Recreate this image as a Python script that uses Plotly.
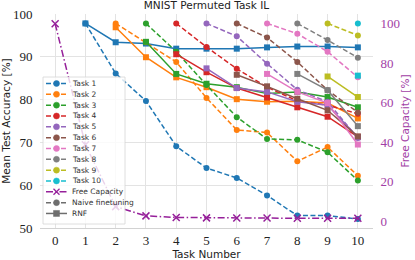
import plotly.graph_objects as go

# ---------------- data ----------------
task_numbers = list(range(0, 11))
task_names = ["Task 1", "Task 2", "Task 3", "Task 4", "Task 5",
              "Task 6", "Task 7", "Task 8", "Task 9", "Task 10"]
task_colors = ["#1f77b4", "#ff7f0e", "#2ca02c", "#d62728", "#9467bd",
               "#8c564b", "#e377c2", "#7f7f7f", "#bcbd22", "#17becf"]

# Naive finetuning accuracy of task k, evaluated after training tasks k..10
naive_t1 = [97.8, 86.1, 79.7, 69.1, 64.0, 61.7, 57.6, 52.9, 52.9, 52.1]
naive_t2 = [97.8, 93.4, 88.8, 80.4, 72.9, 72.3, 65.6, 68.9, 62.2]
naive_t3 = [97.8, 91.2, 83.4, 75.9, 70.8, 70.6, 67.7, 61.1]
naive_t4 = [97.8, 92.3, 87.2, 82.9, 79.7, 78.7, 76.7]
naive_t5 = [97.8, 94.8, 88.4, 82.3, 79.5, 71.0]
naive_t6 = [97.8, 94.5, 88.8, 82.2, 77.0]
naive_t7 = [97.8, 95.4, 91.2, 85.2]
naive_t8 = [97.8, 93.9, 89.8]
naive_t9 = [97.8, 95.0]
naive_t10 = [97.8]

# RNF accuracy of task k, evaluated after training tasks k..10
rnf_t1 = [97.8, 93.4, 93.1, 91.9, 91.9, 91.9, 92.2, 92.4, 92.4, 92.2]
rnf_t2 = [96.9, 89.9, 85.2, 82.9, 80.1, 79.5, 79.6, 79.2, 75.6]
rnf_t3 = [93.5, 86.0, 83.7, 82.9, 81.4, 81.8, 80.6, 78.2]
rnf_t4 = [90.6, 86.4, 82.7, 80.5, 78.2, 76.0, 71.3]
rnf_t5 = [87.3, 82.7, 81.8, 79.5, 78.7, 71.2]
rnf_t6 = [85.8, 83.1, 80.2, 77.5, 71.4]
rnf_t7 = [86.0, 81.8, 79.2, 69.5]
rnf_t8 = [86.0, 82.2, 73.8]
rnf_t9 = [85.4, 80.6]
rnf_t10 = [85.6]

free_capacity = [100.0, 38.7, 7.4, 2.7, 1.9, 1.7, 1.6, 1.6, 1.5, 1.5, 1.5]

naive_series = [naive_t1, naive_t2, naive_t3, naive_t4, naive_t5,
                naive_t6, naive_t7, naive_t8, naive_t9, naive_t10]
rnf_series = [rnf_t1, rnf_t2, rnf_t3, rnf_t4, rnf_t5,
              rnf_t6, rnf_t7, rnf_t8, rnf_t9, rnf_t10]

acc_ticks = [50, 60, 70, 80, 90, 100]
cap_ticks = [0, 20, 40, 60, 80, 100]

legend_labels = task_names + ["Free Capacity", "Naive finetuning", "RNF"]

# ---------------- style ----------------
PURPLE = "#96209a"
PURPLE_TXT = "#a23ea6"
GRID = "#e3e3e3"
TXT = "#222222"
SERIF = "Liberation Serif, DejaVu Serif, serif"
SANS = "DejaVu Sans, sans-serif"
DASH = "5px,2.5px"
DASHDOT = "7px,2.5px,1.5px,2.5px"
NAIVE_GRAY = "#6e6e6e"

fig = go.Figure()

for k in range(10):
    xs = task_numbers[k + 1:]
    fig.add_trace(go.Scatter(
        x=xs, y=naive_series[k], mode="lines+markers", name=task_names[k],
        line=dict(color=task_colors[k], width=1.5, dash=DASH),
        marker=dict(symbol="circle", size=6, color=task_colors[k]),
        showlegend=False))
    fig.add_trace(go.Scatter(
        x=xs, y=rnf_series[k], mode="lines+markers", name=task_names[k] + " RNF",
        line=dict(color=task_colors[k], width=1.5),
        marker=dict(symbol="square", size=6, color=task_colors[k]),
        showlegend=False))

fig.add_trace(go.Scatter(
    x=task_numbers, y=free_capacity, mode="lines+markers", name="Free Capacity",
    yaxis="y2",
    line=dict(color=PURPLE, width=1.5, dash=DASHDOT),
    marker=dict(symbol="x-thin", size=7, line=dict(color=PURPLE, width=1.5)),
    showlegend=False))

# ---------------- layout ----------------
PL, PR, PT, PB = 40, 373, 14, 228
W, H = PR - PL, PB - PT


def px_x(p):
    return (p - PL) / W


def px_y(p):
    return (PB - p) / H


fig.update_layout(
    template="none",
    width=415, height=260,
    margin=dict(l=PL, r=415 - PR, t=PT, b=260 - PB, pad=0, autoexpand=False),
    plot_bgcolor="white", paper_bgcolor="white",
    showlegend=False,
    hovermode=False,
    title=dict(text="MNIST Permuted Task IL", x=px_x(206.5), xref="paper",
               xanchor="center", y=1 - 5.5 / 260, yref="container", yanchor="middle",
               font=dict(family=SANS, size=10.5, color=TXT)),
    xaxis=dict(range=[-0.5, 10.5], tickvals=task_numbers, showgrid=True,
               gridcolor=GRID, gridwidth=1, zeroline=False, automargin=False,
               showline=True, linecolor="#d2d2d2", linewidth=1,
               ticks="",
               tickfont=dict(family=SERIF, size=13, color=TXT),
               title=dict(text="Task Number", standoff=2,
                          font=dict(family=SANS, size=10.5, color=TXT))),
    yaxis=dict(range=[50, 100], tickvals=acc_ticks, showgrid=True,
               gridcolor=GRID, gridwidth=1, zeroline=False, showline=False,
               automargin=False,
               ticks="outside", ticklen=4, tickcolor="rgba(0,0,0,0)",
               tickfont=dict(family=SERIF, size=13, color=TXT),
               title=dict(text="Mean Test Accuracy [%]", standoff=1,
                          font=dict(family=SANS, size=10.5, color=TXT))),
    yaxis2=dict(range=[-3.43, 104.93], tickvals=cap_ticks, overlaying="y",
                side="right", showgrid=False, zeroline=False, showline=False,
                automargin=False,
                ticks="outside", ticklen=4, tickcolor="rgba(0,0,0,0)",
                tickfont=dict(family=SERIF, size=13, color=PURPLE_TXT),
                title=dict(text="Free Capacity [%]", standoff=2,
                           font=dict(family=SANS, size=10.5, color=PURPLE_TXT))),
)

# ---------------- hand-built legend (matplotlib-style, compact rows) ----------------
LEG_X0, LEG_X1, LEG_Y0, LEG_Y1 = 43, 125, 77, 224
ROW0, ROW_H = 83.5, 10.83
LINE_X0, LINE_X1, MARK_X, TEXT_X = 46, 67, 56.5, 69.5

shapes = [dict(type="rect", xref="paper", yref="paper", layer="above",
               x0=px_x(LEG_X0), x1=px_x(LEG_X1), y0=px_y(LEG_Y1), y1=px_y(LEG_Y0),
               fillcolor="rgba(255,255,255,0.8)", line=dict(color="#d6d6d6", width=0.8))]
annotations = []

glyphs = [(c, DASH, "circle") for c in task_colors] + [
    (PURPLE, DASHDOT, "x"), (NAIVE_GRAY, DASH, "circle"), (NAIVE_GRAY, "solid", "square")]

for i, (label, (col, dash, sym)) in enumerate(zip(legend_labels, glyphs)):
    yc = px_y(ROW0 + i * ROW_H)
    shapes.append(dict(type="line", xref="paper", yref="paper", layer="above",
                       x0=px_x(LINE_X0), x1=px_x(LINE_X1), y0=yc, y1=yc,
                       line=dict(color=col, width=1.5, dash=dash)))
    common = dict(xref="paper", yref="paper", layer="above",
                  xsizemode="pixel", ysizemode="pixel",
                  xanchor=px_x(MARK_X), yanchor=yc)
    if sym == "circle":
        shapes.append(dict(type="circle", x0=-3, x1=3, y0=-3, y1=3,
                           fillcolor=col, line=dict(color=col, width=0.5), **common))
    elif sym == "square":
        shapes.append(dict(type="rect", x0=-3, x1=3, y0=-3, y1=3,
                           fillcolor=col, line=dict(color=col, width=0.5), **common))
    else:
        shapes.append(dict(type="line", x0=-3, x1=3, y0=-3, y1=3,
                           line=dict(color=col, width=1.3), **common))
        shapes.append(dict(type="line", x0=-3, x1=3, y0=3, y1=-3,
                           line=dict(color=col, width=1.3), **common))
    annotations.append(dict(text=label, xref="paper", yref="paper",
                            x=px_x(TEXT_X), y=yc, xanchor="left", yanchor="middle",
                            showarrow=False,
                            font=dict(family=SANS, size=7.5, color="#333333")))

fig.update_layout(shapes=shapes, annotations=annotations)

fig.write_html("out.html", config={"displayModeBar": False, "staticPlot": True},
               post_script="document.body.style.margin='0px';")
